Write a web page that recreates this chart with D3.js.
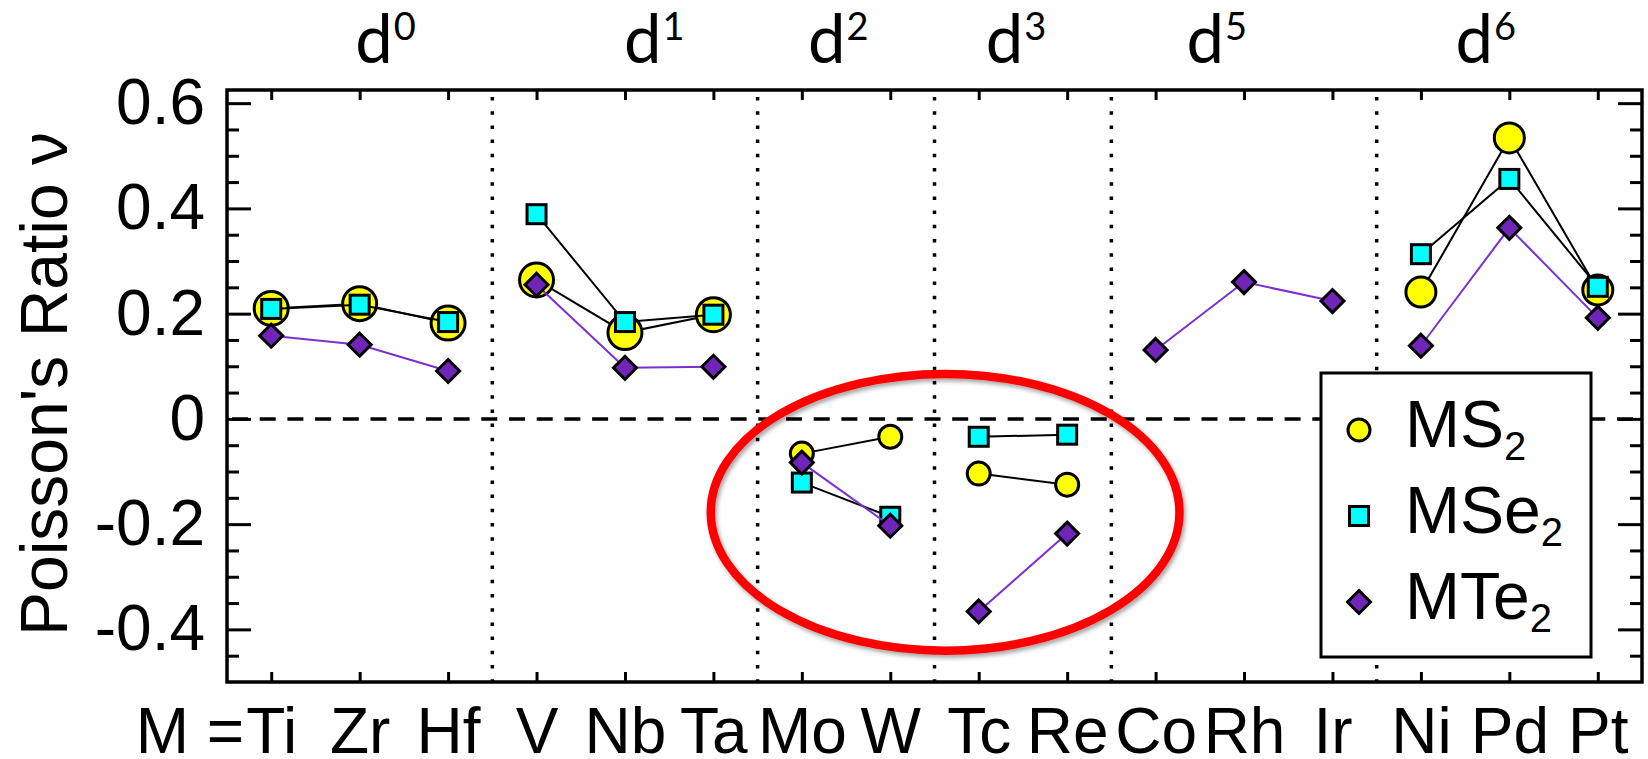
<!DOCTYPE html>
<html>
<head>
<meta charset="utf-8">
<script src="https://cdn.jsdelivr.net/npm/d3@7"></script>
<style>
  body { margin: 0; background: #fff; }
  svg { display: block; }
</style>
</head>
<body>
<svg id="svg" width="1648" height="759"></svg>
<script>
// metals, grouped by d-electron count
var categories = ["Ti","Zr","Hf","V","Nb","Ta","Mo","W","Tc","Re","Co","Rh","Ir","Ni","Pd","Pt"];
var dGroup     = [0,0,0, 1,1,1, 2,2, 3,3, 5,5,5, 6,6,6];
var dLabels    = [0, 1, 2, 3, 5, 6];
var yTicks     = [-0.4, -0.2, 0, 0.2, 0.4, 0.6];

// Poisson's ratio
var ms2  = [0.210, 0.219, 0.182,  0.264, 0.164, 0.198,  -0.066, -0.034,  -0.104, -0.125,  null, null, null,   0.241, 0.534, 0.245];
var mse2 = [0.209, 0.217, 0.184,  0.389, 0.184, 0.198,  -0.121, -0.186,  -0.034, -0.030,  null, null, null,   0.313, 0.456, 0.251];
var mte2 = [0.158, 0.141, 0.091,  0.255, 0.097, 0.099,  -0.083, -0.203,  -0.366, -0.218,  0.131, 0.260, 0.224, 0.139, 0.363, 0.192];

// layout
var pL = 227, pR = 1642, pT = 90, pB = 682;
var labelAt = [0.95, 3.99, 6.07, 8.08, 10.35, 13.39];   // x index where each d^n label starts
var circleR = {0: 17, 1: 17, 2: 11.5, 3: 11.5, 5: 11.5, 6: 15};
var helv = "'Liberation Sans', Arial, Helvetica, sans-serif";

var svg = d3.select("#svg");

var x = d3.scaleLinear().domain([-0.5, categories.length - 0.5]).range([pL, pR]);
var y = d3.scaleLinear().domain([-0.5, 0.625]).range([pB, pT]);

var defs = svg.append("defs");
var f = defs.append("filter").attr("id", "shadow")
    .attr("x", "-10%").attr("y", "-10%").attr("width", "120%").attr("height", "120%");
f.append("feDropShadow").attr("dx", 2).attr("dy", 3).attr("stdDeviation", 2)
    .attr("flood-color", "#000").attr("flood-opacity", 0.35);

// group separators (dotted)
var seps = [];
for (var i = 1; i < categories.length; i++) if (dGroup[i] !== dGroup[i - 1]) seps.push(i - 0.5);

svg.append("g").selectAll("line")
    .data(seps).enter().append("line")
    .attr("x1", function(d) { return x(d); })
    .attr("x2", function(d) { return x(d); })
    .attr("y1", pT).attr("y2", pB)
    .attr("stroke", "#000")
    .attr("stroke-width", 3.5)
    .attr("stroke-dasharray", "3.5,10.7")
    .attr("stroke-dashoffset", -7);

// zero line (dashed)
svg.append("line")
    .attr("x1", pL).attr("x2", pR)
    .attr("y1", y(0)).attr("y2", y(0))
    .attr("stroke", "#000")
    .attr("stroke-width", 3.5)
    .attr("stroke-dasharray", "16,11.7")
    .attr("stroke-dashoffset", -5);

// series: line then markers, per group so lines break at separators
var series = [
    {name: "MS", values: ms2,  shape: "circle",  fill: "#ffff00", line: "#000"},
    {name: "MSe", values: mse2, shape: "square",  fill: "#00ffff", line: "#000"},
    {name: "MTe", values: mte2, shape: "diamond", fill: "#7024b8", line: "#7b2fd1"}
];

var line = d3.line()
    .defined(function(d) { return d.v != null; })
    .x(function(d) { return x(d.i); })
    .y(function(d) { return y(d.v); });

function marker(sel, shape, fill, group) {
    if (shape === "circle") {
        sel.append("circle").attr("r", circleR[group])
            .attr("fill", fill).attr("stroke", "#000").attr("stroke-width", 3);
    } else if (shape === "square") {
        sel.append("rect").attr("x", -9.5).attr("y", -9.5).attr("width", 19).attr("height", 19)
            .attr("fill", fill).attr("stroke", "#000").attr("stroke-width", 3);
    } else {
        sel.append("path").attr("d", "M0,-11.5L11.5,0L0,11.5L-11.5,0Z")
            .attr("fill", fill).attr("stroke", "#000").attr("stroke-width", 3)
            .attr("stroke-linejoin", "miter");
    }
}

series.forEach(function(s) {
    var g = svg.append("g");
    dLabels.forEach(function(dn) {
        var pts = [];
        s.values.forEach(function(v, i) { if (dGroup[i] === dn) pts.push({i: i, v: v}); });
        g.append("path")
            .attr("d", line(pts))
            .attr("fill", "none")
            .attr("stroke", s.line)
            .attr("stroke-width", 2);
    });
    var pts = s.values.map(function(v, i) { return {i: i, v: v}; })
        .filter(function(d) { return d.v != null; });
    g.selectAll("g.pt").data(pts).enter().append("g")
        .attr("class", "pt")
        .attr("transform", function(d) { return "translate(" + x(d.i) + "," + y(d.v) + ")"; })
        .each(function(d) { marker(d3.select(this), s.shape, s.fill, dGroup[d.i]); });
});

// red ellipse around the negative values
svg.append("ellipse")
    .attr("cx", x(7.62)).attr("cy", y(-0.1775))
    .attr("rx", x(2.65) - x(0)).attr("ry", y(0) - y(0.263))
    .attr("fill", "none")
    .attr("stroke", "#ff0000")
    .attr("stroke-width", 8.5)
    .attr("filter", "url(#shadow)");

// legend
var lx = 1321, ly = 373, lw = 270, lh = 284;
var lg = svg.append("g");
lg.append("rect").attr("x", lx).attr("y", ly).attr("width", lw).attr("height", lh)
    .attr("fill", "#fff").attr("stroke", "#000").attr("stroke-width", 3);
series.forEach(function(s, k) {
    var row = lg.append("g").attr("transform", "translate(" + (lx + 38) + "," + (ly + 57 + k * 86) + ")");
    if (s.shape === "circle") {
        row.append("circle").attr("r", 11).attr("fill", s.fill).attr("stroke", "#000").attr("stroke-width", 3);
    } else {
        marker(row, s.shape, s.fill, 0);
    }
    var t = lg.append("text")
        .attr("x", lx + 84).attr("y", ly + 74 + k * 86)
        .attr("font-family", helv).attr("font-size", 66)
        .text(s.name);
    t.append("tspan").attr("dy", 13).attr("font-size", 40).text("2");
});

// axes
function styleAxis(g) {
    g.select(".domain").remove();
    g.selectAll(".tick line").attr("stroke", "#000").attr("stroke-width", 3);
    g.attr("font-family", helv).attr("font-size", 64);
    g.selectAll(".tick text").attr("fill", "#000");
}

var minor = d3.range(-9, 13).filter(function(k) { return k % 4 !== 0; }).map(function(k) { return k * 0.05; });

svg.append("g").attr("transform", "translate(" + pL + ",0)")
    .call(d3.axisLeft(y).tickValues(minor).tickSize(-12).tickFormat(""))
    .call(styleAxis);
svg.append("g").attr("transform", "translate(" + pL + ",0)")
    .call(d3.axisLeft(y).tickValues(yTicks).tickSize(-24).tickPadding(22)
        .tickFormat(function(d) { return d === 0 ? "0" : d.toFixed(1); }))
    .call(styleAxis);
svg.append("g").attr("transform", "translate(" + pR + ",0)")
    .call(d3.axisRight(y).tickValues(minor).tickSize(-12).tickFormat(""))
    .call(styleAxis);
svg.append("g").attr("transform", "translate(" + pR + ",0)")
    .call(d3.axisRight(y).tickValues(yTicks).tickSize(-24).tickFormat(""))
    .call(styleAxis);

svg.append("g").attr("transform", "translate(0," + pB + ")")
    .call(d3.axisBottom(x).tickValues(d3.range(categories.length)).tickSizeInner(-10).tickSizeOuter(0)
        .tickPadding(26).tickFormat(function(i) { return categories[i]; }))
    .call(styleAxis);
svg.append("g").attr("transform", "translate(0," + pT + ")")
    .call(d3.axisTop(x).tickValues(d3.range(categories.length)).tickSizeInner(-10).tickSizeOuter(0)
        .tickFormat(""))
    .call(styleAxis);

svg.append("text")
    .attr("x", x(0) - 27).attr("y", 753)
    .attr("text-anchor", "end")
    .attr("font-family", helv).attr("font-size", 64)
    .text("M =");

// frame
svg.append("rect")
    .attr("x", pL).attr("y", pT).attr("width", pR - pL).attr("height", pB - pT)
    .attr("fill", "none").attr("stroke", "#000").attr("stroke-width", 3.5);

// d^n labels on top
dLabels.forEach(function(dn, k) {
    var t = svg.append("text")
        .attr("x", x(labelAt[k])).attr("y", 63)
        .attr("font-family", "Lato, 'Open Sans', sans-serif").attr("font-size", 67)
        .text("d");
    t.append("tspan").attr("dy", -23).attr("dx", 1).attr("font-size", 38).text(dn);
});

// y title
svg.append("text")
    .attr("transform", "translate(67,384) rotate(-90)")
    .attr("text-anchor", "middle")
    .attr("font-family", helv).attr("font-size", 66)
    .text("Poisson's Ratio \u03bd");
</script>
</body>
</html>
